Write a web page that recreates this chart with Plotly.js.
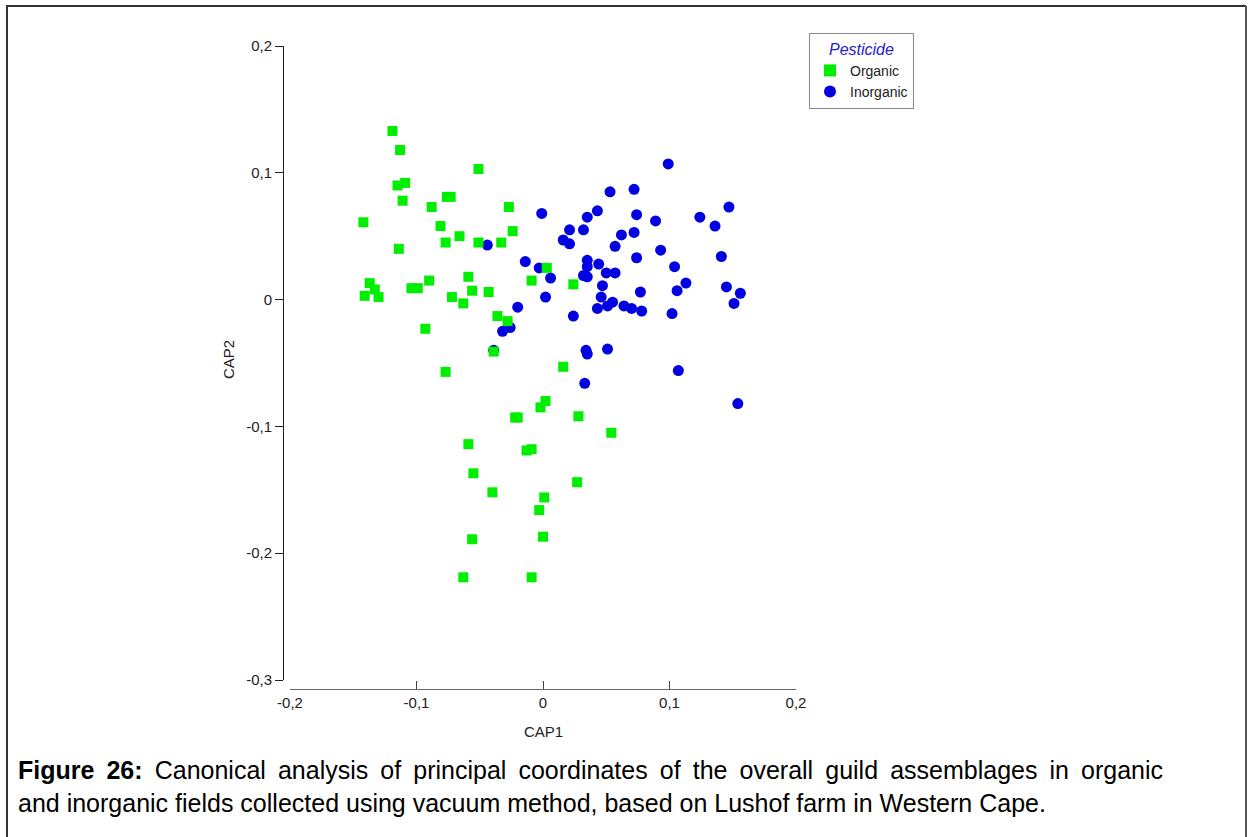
<!DOCTYPE html>
<html>
<head>
<meta charset="utf-8">
<script src="https://cdn.plot.ly/plotly-3.0.1.min.js"></script>
<style>html,body{margin:0;padding:0;background:#fff;}#chart{width:1248px;height:837px;}</style>
</head>
<body>
<div id="chart"></div>
<script>
// ---- Data ----
const organicX = [-0.119,-0.113,-0.115,-0.109,-0.111,-0.051,-0.076,-0.073,-0.088,-0.027,-0.081,-0.024,-0.142,-0.066,-0.077,-0.051,-0.033,-0.114,0.003,-0.009,0.024,-0.137,-0.133,-0.141,-0.130,-0.104,-0.099,-0.090,-0.059,-0.056,-0.043,-0.072,-0.063,-0.036,-0.028,-0.093,-0.039,-0.077,0.016,0.002,-0.002,-0.022,-0.020,0.028,0.054,-0.059,-0.013,-0.009,0.027,-0.055,-0.040,0.001,-0.003,-0.056,0.000,-0.063,-0.009];
const organicY = [0.133,0.118,0.090,0.092,0.078,0.103,0.081,0.081,0.073,0.073,0.058,0.054,0.061,0.050,0.045,0.045,0.045,0.040,0.025,0.015,0.012,0.013,0.008,0.003,0.002,0.009,0.009,0.015,0.018,0.007,0.006,0.002,-0.003,-0.013,-0.017,-0.023,-0.041,-0.057,-0.053,-0.080,-0.085,-0.093,-0.093,-0.092,-0.105,-0.114,-0.119,-0.118,-0.144,-0.137,-0.152,-0.156,-0.166,-0.189,-0.187,-0.219,-0.219];
const inorganicX = [0.099,0.053,0.072,-0.001,0.043,0.035,0.074,0.089,0.021,0.032,0.062,0.072,0.016,0.021,0.057,0.093,0.074,0.104,-0.044,-0.014,0.035,0.044,0.035,-0.003,0.006,0.032,0.035,0.050,0.057,0.047,0.106,0.077,0.002,0.046,-0.020,0.024,0.043,0.051,0.055,0.064,0.070,0.078,0.102,-0.032,-0.026,-0.039,0.034,0.035,0.051,0.033,0.107,0.147,0.124,0.136,0.141,0.113,0.145,0.156,0.151,0.154];
const inorganicY = [0.107,0.085,0.087,0.068,0.070,0.065,0.067,0.062,0.055,0.055,0.051,0.053,0.047,0.044,0.042,0.039,0.033,0.026,0.043,0.030,0.031,0.028,0.026,0.025,0.017,0.019,0.018,0.021,0.021,0.011,0.007,0.006,0.002,0.002,-0.006,-0.013,-0.007,-0.005,-0.002,-0.005,-0.007,-0.009,-0.011,-0.025,-0.022,-0.040,-0.040,-0.043,-0.039,-0.066,-0.056,0.073,0.065,0.058,0.034,0.013,0.010,0.005,-0.003,-0.082];

const xTickVals = [-0.2,-0.1,0,0.1,0.2];
const xTickText = ["-0,2","-0,1","0","0,1","0,2"];
const yTickVals = [-0.3,-0.2,-0.1,0,0.1,0.2];
const yTickText = ["-0,3","-0,2","-0,1","0","0,1","0,2"];

const legendTitle = "Pesticide";
const seriesNames = ["Organic","Inorganic"];
const xTitle = "CAP1";
const yTitle = "CAP2";
const captionBold = "Figure 26:";
const captionLine1 = " Canonical analysis of principal coordinates of the overall guild assemblages in organic";
const captionLine2 = "and inorganic fields collected using vacuum method, based on Lushof farm in Western Cape.";

// ---- Layout geometry (pixels -> paper fractions) ----
const W = 1248, H = 837;
const px = v => v / W;
const py = v => 1 - v / H;

const FONT = "Liberation Sans, Arial, sans-serif";

const traces = [
  {
    x: inorganicX, y: inorganicY, name: seriesNames[1], type: "scatter", mode: "markers",
    marker: {symbol: "circle", size: 11, color: "#0000e0"}, xaxis: "x", yaxis: "y"
  },
  {
    x: organicX, y: organicY, name: seriesNames[0], type: "scatter", mode: "markers",
    marker: {symbol: "square", size: 10, color: "#00ee00"}, xaxis: "x", yaxis: "y"
  }
];

const xDomain = [px(290), px(796)];
const yDomain = [py(680), py(46)];
const yPos = px(283);
const xPos = py(689);

const tickFont = {family: FONT, size: 15, color: "#222"};

const layout = {
  width: W, height: H,
  margin: {l: 0, r: 0, t: 0, b: 0, pad: 0},
  paper_bgcolor: "#fff", plot_bgcolor: "rgba(0,0,0,0)",
  showlegend: true,
  legend: {
    x: px(809), y: py(33), xanchor: "left", yanchor: "top",
    bordercolor: "#888", borderwidth: 1, bgcolor: "#fff",
    font: {family: FONT, size: 14, color: "#222"},
    title: {text: legendTitle, side: "top center", font: {family: FONT, size: 16, color: "#2222cc", style: "italic"}},
    traceorder: "reversed", itemsizing: "constant", tracegroupgap: 0, itemwidth: 30
  },
  xaxis: {
    domain: xDomain, range: [-0.2, 0.2], anchor: "free", position: xPos,
    showgrid: false, zeroline: false, showline: true, linecolor: "#666", linewidth: 1,
    ticks: "inside", ticklen: 8, tickcolor: "#444", tickwidth: 1,
    tickmode: "array", tickvals: xTickVals, ticktext: xTickText,
    tickfont: tickFont, automargin: false
  },
  xaxis2: {
    overlaying: "x", matches: "x", range: [-0.2, 0.2], anchor: "free", position: xPos,
    showgrid: false, zeroline: false, showline: false,
    ticks: "outside", ticklen: 4, tickcolor: "#444", tickwidth: 1,
    tickmode: "array", tickvals: xTickVals, showticklabels: false, automargin: false
  },
  yaxis: {
    domain: yDomain, range: [-0.3, 0.2], anchor: "free", position: yPos,
    showgrid: false, zeroline: false, showline: true, linecolor: "#222", linewidth: 1,
    ticks: "outside", ticklen: 8, tickcolor: "#222", tickwidth: 1,
    tickmode: "array", tickvals: yTickVals, ticktext: yTickText,
    tickfont: tickFont, automargin: false
  },
  yaxis2: {
    overlaying: "y", matches: "y", range: [-0.3, 0.2], anchor: "free", position: yPos,
    showgrid: false, zeroline: false, showline: false,
    ticks: "inside", ticklen: 7, tickcolor: "#222", tickwidth: 1,
    tickmode: "array", tickvals: yTickVals, showticklabels: false, automargin: false
  },
  annotations: [
    {text: xTitle, xref: "paper", yref: "paper", x: px(543), y: py(731), xanchor: "center", yanchor: "middle",
     showarrow: false, font: {family: FONT, size: 15, color: "#222"}},
    {text: yTitle, xref: "paper", yref: "paper", x: px(228), y: py(360), xanchor: "center", yanchor: "middle",
     textangle: -90, showarrow: false, font: {family: FONT, size: 15, color: "#222"}},
    {text: "<b>" + captionBold + "</b>" + captionLine1, xref: "paper", yref: "paper", x: px(16), y: py(770),
     xanchor: "left", yanchor: "middle", align: "left", showarrow: false,
     font: {family: FONT, size: 25, color: "#000"}},
    {text: captionLine2, xref: "paper", yref: "paper", x: px(16), y: py(803),
     xanchor: "left", yanchor: "middle", align: "left", showarrow: false,
     font: {family: FONT, size: 25, color: "#000"}}
  ],
  shapes: [
    {type: "line", xref: "paper", yref: "paper", x0: px(7), x1: px(7), y0: 0, y1: py(6), line: {color: "#333", width: 2}},
    {type: "line", xref: "paper", yref: "paper", x0: px(6), x1: px(1246), y0: py(6), y1: py(6), line: {color: "#333", width: 2}},
    {type: "line", xref: "paper", yref: "paper", x0: px(1246), x1: px(1246), y0: 0, y1: py(6), line: {color: "#555", width: 2}}
  ]
};

Plotly.newPlot("chart", traces, layout, {displayModeBar: false, staticPlot: true}).then(function (gd) {
  // Justify the first caption line (as in the source document) by widening word spacing.
  const texts = gd.querySelectorAll(".annotation-text");
  const first = texts[2];
  if (first) {
    const rect = first.getBoundingClientRect();
    const targetRight = 1163;
    const spaces = (captionBold + captionLine1).split(" ").length - 1;
    const extra = targetRight - rect.right;
    if (extra > 0 && spaces > 0) {
      first.setAttribute("word-spacing", (extra / spaces).toFixed(2));
      first.style.wordSpacing = (extra / spaces).toFixed(2) + "px";
    }
  }
});
</script>
</body>
</html>
